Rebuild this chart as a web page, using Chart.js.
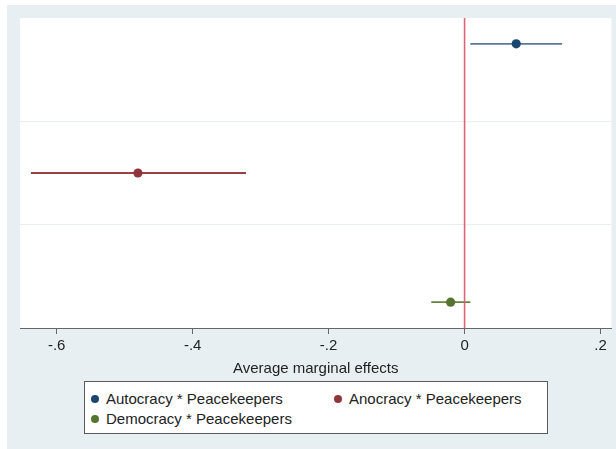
<!DOCTYPE html>
<html>
<head>
<meta charset="utf-8">
<script src="https://cdn.jsdelivr.net/npm/chart.js@4/dist/chart.umd.min.js"></script>
<style>
body{margin:0;background:#fff;width:616px;height:449px;position:relative;overflow:hidden;font-family:"Liberation Sans",Arial,sans-serif}
#bg{position:absolute;left:7px;top:5px;width:609px;height:444px;background:#e8eff2}
#wrap{position:absolute;left:0;top:0;width:616px;height:449px}
#legend{position:absolute;left:84px;top:381px;width:462px;height:51px;border:1px solid #5a5a5a;background:#fff;font-size:15px;color:#222}
#legend .it{position:absolute;white-space:nowrap;line-height:18px}
#legend .dot{display:inline-block;width:8px;height:8px;border-radius:50%;margin-right:7px;vertical-align:1px}
</style>
</head>
<body>
<div id="bg"></div>
<div id="wrap"><canvas id="c" width="616" height="449"></canvas></div>
<div id="legend"></div>
<script>
// coefficient plot: average marginal effects with 95% CIs
const labels = ['Autocracy * Peacekeepers','Anocracy * Peacekeepers','Democracy * Peacekeepers'];
const rowPos = [1, 2, 3];
const est    = [0.076, -0.4805, -0.0205];
const ciLow  = [0.0085, -0.638, -0.049];
const ciHigh = [0.1435, -0.3215, 0.0085];
const xTicks = [-0.6, -0.4, -0.2, 0, 0.2];
const gridAt = [1.6, 2.4];
const markColor = ['#1a476f','#90353b','#55752f'];
const ciColor   = ['#5b7894','#9a3f45','#66833f'];

const datasets = [];
// reference line at zero
datasets.push({type:'line',data:[{x:0,y:0.8},{x:0,y:3.2}],borderColor:'#dc6478',borderWidth:1.6,pointRadius:0});
labels.forEach((l,i)=>{
  datasets.push({type:'scatter',label:l,data:[{x:est[i],y:rowPos[i]}],pointRadius:4.6,
    pointBackgroundColor:markColor[i],pointBorderColor:markColor[i],pointBorderWidth:0});
});
labels.forEach((l,i)=>{
  datasets.push({type:'line',data:[{x:ciLow[i],y:rowPos[i]},{x:ciHigh[i],y:rowPos[i]}],
    borderColor:ciColor[i],borderWidth:1.8,pointRadius:0});
});

const plotBg = {id:'plotBg',beforeDraw(ch){
  const a=ch.chartArea,ctx=ch.ctx;
  ctx.save();ctx.fillStyle='#fff';ctx.fillRect(a.left,a.top,a.right-a.left,a.bottom-a.top);ctx.restore();
}};

function fmt(v){
  if(Math.abs(v)<1e-9) return '0';
  return (v<0?'-':'')+String(Math.abs(v).toFixed(1)).replace(/^0/,'');
}

new Chart(document.getElementById('c'),{
  data:{datasets},
  plugins:[plotBg],
  options:{
    responsive:false,animation:false,
    layout:{padding:{left:20,right:4,top:18,bottom:71}},
    plugins:{legend:{display:false},tooltip:{enabled:false}},
    scales:{
      x:{type:'linear',min:-0.654,max:0.216,
        afterBuildTicks:s=>{s.ticks=xTicks.map(v=>({value:v}));},
        afterFit:s=>{s.height=50;},
        grid:{drawOnChartArea:false,drawTicks:true,tickLength:6,color:'#666'},
        border:{color:'#666',width:1},
        ticks:{padding:3,color:'#222',font:{family:'"Liberation Sans", Arial, sans-serif',size:15},callback:v=>fmt(v)},
        title:{display:true,text:'Average marginal effects',color:'#222',padding:{top:1,bottom:0},
          font:{family:'"Liberation Sans", Arial, sans-serif',size:15}}
      },
      y:{type:'linear',min:0.8,max:3.2,reverse:true,
        afterBuildTicks:s=>{s.ticks=gridAt.map(v=>({value:v}));},
        afterFit:s=>{s.width=0;},
        ticks:{display:false},
        border:{display:false},
        grid:{drawTicks:false,color:'#e9eef0',lineWidth:1}
      }
    }
  }
});

const lg=document.getElementById('legend');
const spots=[[6,8],[249,8],[6,28]];
labels.forEach((l,i)=>{
  const d=document.createElement('div');d.className='it';
  d.style.left=spots[i][0]+'px';d.style.top=spots[i][1]+'px';
  d.innerHTML='<span class="dot" style="background:'+markColor[i]+'"></span>'+l;
  lg.appendChild(d);
});
</script>
</body>
</html>
